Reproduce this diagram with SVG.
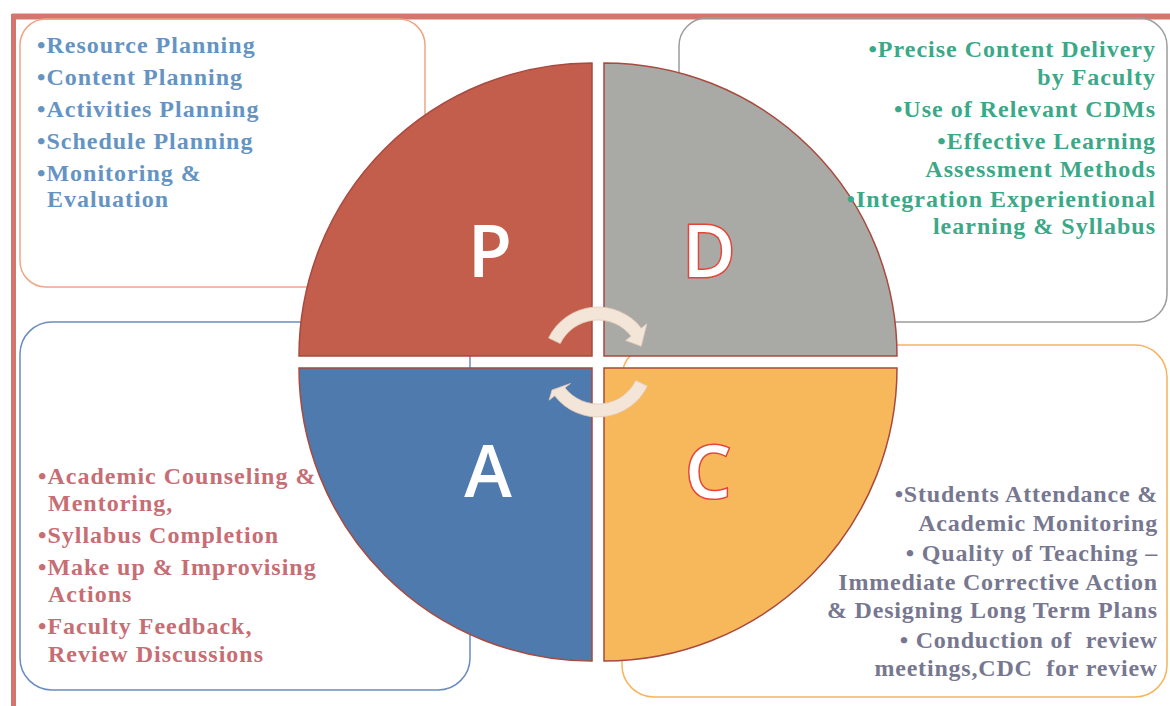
<svg xmlns="http://www.w3.org/2000/svg" width="1170" height="706" viewBox="0 0 1170 706">
<style>
.t{font-family:"Liberation Serif","Times New Roman",serif;font-weight:bold;font-size:24px;letter-spacing:1px}
.p{fill:#6594c3}
.d{fill:#3ba987;text-anchor:end}
.a{fill:#c76d74}
.c{fill:#777890;text-anchor:end;letter-spacing:0.8px}
.q{stroke:#a84a40;stroke-width:1.5}
.L{font-family:"Open Sans","Noto Sans",sans-serif;font-weight:600;font-size:72px;text-anchor:middle;fill:#fff}
.o{stroke:#e5443a;stroke-width:3;paint-order:stroke}
.box{fill:none;stroke-width:1.5}
.arr{fill:#f3e5d8;stroke:#e3c9b6;stroke-width:0.8}
</style>
<rect width="1170" height="706" fill="#fff"/>
<g id="frame">
<line x1="12" y1="16.5" x2="1170" y2="16.5" stroke="#d5766e" stroke-width="6"/>
<line x1="13.5" y1="14" x2="13.5" y2="706" stroke="#d5766e" stroke-width="5"/>
</g>
<g id="box-P"><rect class="box" x="20" y="19" width="405" height="268" rx="26" stroke="#f0a585"/></g>
<g id="box-D"><rect class="box" x="679" y="18" width="488" height="304" rx="28" stroke="#9c9c9c"/></g>
<g id="box-A"><rect class="box" x="20" y="322" width="450" height="368" rx="32" stroke="#6a8cbf"/></g>
<g id="box-C"><rect class="box" x="622" y="345" width="545" height="352" rx="32" stroke="#f6b45c"/></g>
<g id="node-P">
<path class="q" fill="#c35d4c" d="M592 356 H299 A293 293 0 0 1 592 63 Z"/>
<text class="L" x="490" y="277">P</text>
</g>
<g id="node-D">
<path class="q" fill="#a9aaa5" d="M604 356 V63 A293 293 0 0 1 897 356 Z"/>
<text class="L o" x="709" y="277">D</text>
</g>
<g id="node-A">
<path class="q" fill="#4f7aad" d="M592 368 H299 A293 293 0 0 0 592 661 Z"/>
<text class="L" x="488" y="497">A</text>
</g>
<g id="node-C">
<path class="q" fill="#f6b85a" d="M604 368 H897 A293 293 0 0 1 604 661 Z"/>
<text class="L o" x="708" y="498">C</text>
</g>
<g id="connectors">
<path class="arr" d="M548.57 337.89 A55 55 0 0 1 641.34 328.14 L646.86 323.83 L641.23 346.27 L625.58 340.45 L631.10 336.14 A42 42 0 0 0 560.25 343.59 Z"/>
<path class="arr" d="M647.43 386.11 A55 55 0 0 1 554.66 395.86 L549.14 400.17 L552 390 L570.42 383.55 L564.90 387.86 A42 42 0 0 0 635.75 380.41 Z"/>
</g>
<g id="text-P" class="t p">
<text x="37" y="53">•Resource Planning</text>
<text x="37" y="85">•Content Planning</text>
<text x="37" y="117">•Activities Planning</text>
<text x="37" y="149">•Schedule Planning</text>
<text x="37" y="181">•Monitoring &amp;</text>
<text x="47" y="207">Evaluation</text>
</g>
<g id="text-D" class="t d">
<text x="1156" y="57">•Precise Content Delivery</text>
<text x="1156" y="85">by Faculty</text>
<text x="1156" y="117">•Use of Relevant CDMs</text>
<text x="1156" y="149">•Effective Learning</text>
<text x="1156" y="177">Assessment Methods</text>
<text x="1156" y="207">•Integration Experientional</text>
<text x="1156" y="234">learning &amp; Syllabus</text>
</g>
<g id="text-A" class="t a">
<text x="38" y="484">•Academic Counseling &amp;</text>
<text x="48" y="511">Mentoring,</text>
<text x="38" y="543">•Syllabus Completion</text>
<text x="38" y="575">•Make up &amp; Improvising</text>
<text x="48" y="602">Actions</text>
<text x="38" y="634">•Faculty Feedback,</text>
<text x="48" y="662">Review Discussions</text>
</g>
<g id="text-C" class="t c">
<text x="1158" y="502">•Students Attendance &amp;</text>
<text x="1158" y="531">Academic Monitoring</text>
<text x="1158" y="561">• Quality of Teaching –</text>
<text x="1158" y="590">Immediate Corrective Action</text>
<text x="1158" y="618">&amp; Designing Long Term Plans</text>
<text x="1158" y="648" xml:space="preserve">• Conduction of  review</text>
<text x="1158" y="676" xml:space="preserve">meetings,CDC  for review</text>
</g>
</svg>
